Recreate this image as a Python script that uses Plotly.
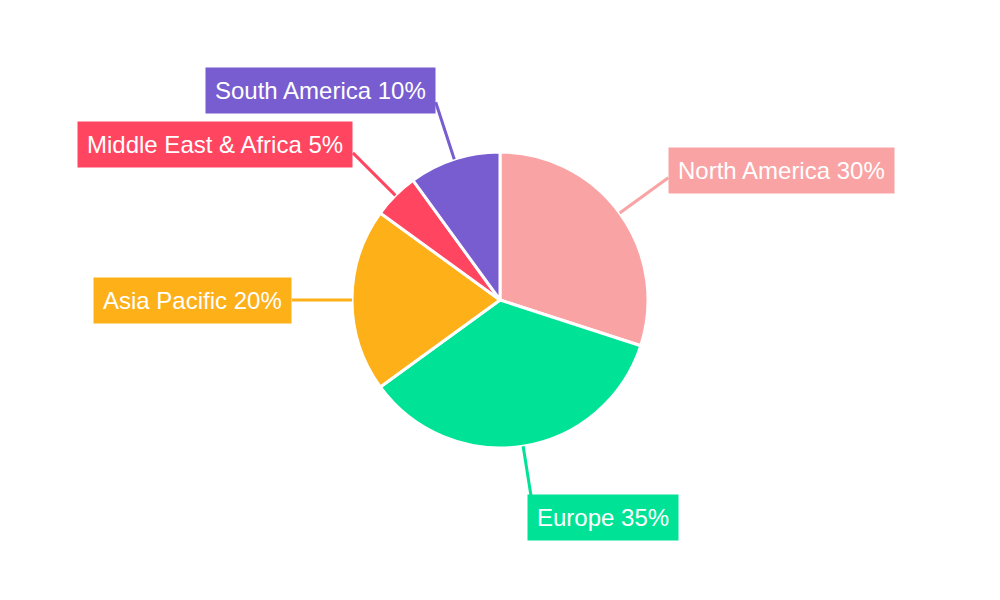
import math
import plotly.graph_objects as go

regions = ["North America", "Europe", "Asia Pacific", "Middle East & Africa", "South America"]
shares = [30, 35, 20, 5, 10]
colors = ["#F9A3A4", "#00E396", "#FEB019", "#FF4560", "#775DD0"]

W, H = 1000, 600
cx, cy = 500, 300
R = 148
line_len = 60

fig = go.Figure()
fig.add_trace(go.Pie(
    labels=regions,
    values=shares,
    sort=False,
    direction="clockwise",
    rotation=0,
    textinfo="none",
    hoverinfo="label+percent",
    marker=dict(colors=colors, line=dict(color="white", width=3)),
    domain=dict(x=[0, 1], y=[(cy - R) / H, (cy + R) / H]),
    showlegend=False,
))

# leader lines + boxed labels, placed from each slice's mid angle
total = sum(shares)
cum = 0
for name, val, col in zip(regions, shares, colors):
    mid = (cum + val / 2) / total * 2 * math.pi
    cum += val
    s, c = math.sin(mid), math.cos(mid)
    x0, y0 = cx + R * s, cy - R * c
    x1, y1 = cx + (R + line_len) * s, cy - (R + line_len) * c
    fig.add_shape(
        type="line", xref="paper", yref="paper",
        x0=x0 / W, y0=1 - y0 / H, x1=x1 / W, y1=1 - y1 / H,
        line=dict(color=col, width=3),
    )
    fig.add_annotation(
        x=x1 / W, y=1 - y1 / H, xref="paper", yref="paper",
        text=f"{name} {val}%",
        showarrow=False,
        xanchor="left" if s > 0 else "right",
        yanchor="middle",
        yshift=12 * c,
        xshift=-6 if abs(c) > 0.9 and s > 0 else 0,
        bgcolor=col,
        borderpad=9,
        font=dict(family="Liberation Sans, Arial, sans-serif", size=24, color="white"),
    )

fig.update_layout(
    width=W, height=H,
    margin=dict(l=0, r=0, t=0, b=0),
    paper_bgcolor="white",
    plot_bgcolor="white",
)

fig.write_html("out.html", config={"displayModeBar": False},
               post_script="document.body.style.margin='0';")
